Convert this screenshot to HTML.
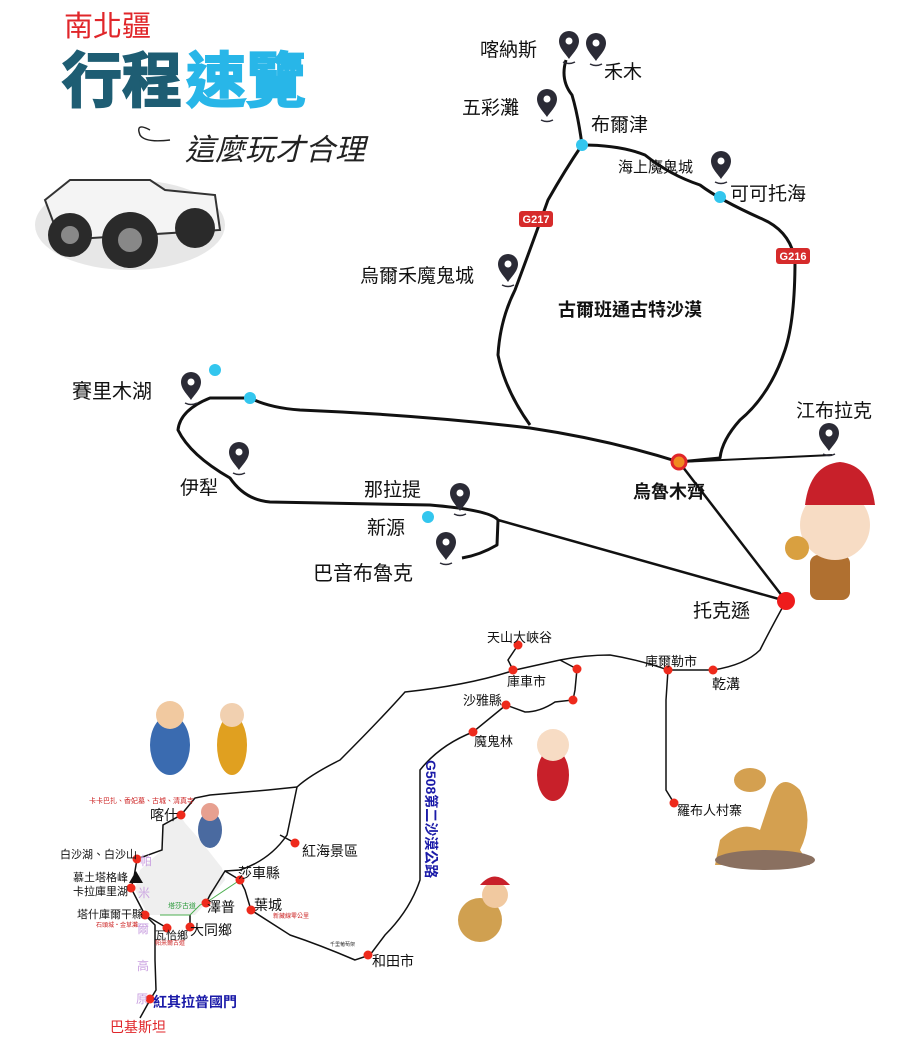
<!DOCTYPE html>
<html><head><meta charset="utf-8"><style>
html,body{margin:0;padding:0;background:#fff}
svg{display:block}
text{font-family:"Liberation Sans","Noto Sans CJK TC",sans-serif}
</style></head><body>
<svg width="897" height="1059" viewBox="0 0 897 1059" xmlns="http://www.w3.org/2000/svg">
<defs>
<g id="pin"><path d="M0,14 C-4,8 -10,3 -10,-4 A10,10 0 1 1 10,-4 C10,3 4,8 0,14Z" fill="#2b2b36"/><circle cx="0" cy="-4" r="3.5" fill="#fff"/><path d="M-6,17 Q0,20 6,17" stroke="#2b2b36" stroke-width="1.5" fill="none"/></g>
</defs>
<!-- title -->
<text x="64" y="36" font-size="29" fill="#e0262a">南北疆</text>
<text x="62" y="102" font-size="60" font-weight="bold" fill="#1e5d73" stroke="#1e5d73" stroke-width="2">行程</text>
<text x="186" y="102" font-size="60" font-weight="bold" fill="#28b6e8" stroke="#28b6e8" stroke-width="2">速覽</text>
<path d="M150,130 q-15,-8 -10,5 q5,8 30,5" stroke="#222" fill="none" stroke-width="1.5"/>
<text x="185" y="160" font-size="30" fill="#222" font-family="Noto Serif CJK SC, serif" font-style="italic">這麼玩才合理</text>
<!-- jeep -->
<ellipse cx="130" cy="225" rx="95" ry="45" fill="#ddd" opacity="0.7"/>
<path d="M45,200 L70,180 L150,180 L165,190 L215,195 L220,230 L60,240Z" fill="#f4f4f4" stroke="#333" stroke-width="2"/>
<circle cx="70" cy="235" r="22" fill="#2a2a2a"/><circle cx="130" cy="240" r="28" fill="#2a2a2a"/><circle cx="195" cy="228" r="20" fill="#2a2a2a"/>
<circle cx="130" cy="240" r="12" fill="#888"/><circle cx="70" cy="235" r="9" fill="#888"/>
<!-- routes north -->
<g fill="none" stroke="#111" stroke-width="3" stroke-linejoin="round">
<path d="M566,60 Q560,80 572,95 Q578,115 582,145 Q565,170 548,200 Q530,250 515,290 Q500,320 498,355 Q505,390 530,425"/>
<path d="M582,145 Q620,145 645,155 Q670,175 700,185 Q720,200 760,218 Q790,230 795,260 Q795,320 785,350 Q770,395 740,420 Q722,440 720,458 L679,462"/>
<path d="M679,462 L832,455" stroke-width="2"/>
<path d="M250,398 Q270,408 300,410 Q420,415 530,428 Q610,440 679,462"/>
<path d="M250,398 L210,398 Q180,410 178,430 Q190,455 230,478 Q245,500 270,502 L430,505 Q490,510 498,520 L497,545 Q480,555 462,558"/>
<path d="M498,520 L786,601" stroke-width="2.5"/>
<path d="M679,462 L786,601" stroke-width="2.5"/>
<path d="M786,601 Q770,630 760,650 Q745,665 713,670" stroke-width="1.5"/>
</g>
<circle cx="582" cy="145" r="6" fill="#33c6ee"/><circle cx="720" cy="197" r="6" fill="#33c6ee"/><circle cx="215" cy="370" r="6" fill="#33c6ee"/><circle cx="250" cy="398" r="6" fill="#33c6ee"/><circle cx="428" cy="517" r="6" fill="#33c6ee"/>
<circle cx="679" cy="462" r="7" fill="#f08a20" stroke="#e0262a" stroke-width="3"/>
<circle cx="786" cy="601" r="9" fill="#ee1c1c"/>
<rect x="519" y="211" width="34" height="16" rx="3" fill="#d62b2b"/><text x="536" y="223" font-size="11" fill="#fff" text-anchor="middle" font-weight="bold">G217</text>
<rect x="776" y="248" width="34" height="16" rx="3" fill="#d62b2b"/><text x="793" y="260" font-size="11" fill="#fff" text-anchor="middle" font-weight="bold">G216</text>
<use href="#pin" x="569" y="45"/><use href="#pin" x="596" y="47"/><use href="#pin" x="547" y="103"/><use href="#pin" x="721" y="165"/><use href="#pin" x="508" y="268"/><use href="#pin" x="191" y="386"/><use href="#pin" x="239" y="456"/><use href="#pin" x="460" y="497"/><use href="#pin" x="446" y="546"/><use href="#pin" x="829" y="437"/>
<g font-size="19" fill="#111">
<text x="480" y="56">喀納斯</text><text x="604" y="78">禾木</text><text x="462" y="114">五彩灘</text><text x="591" y="131">布爾津</text>
<text x="618" y="172" font-size="15">海上魔鬼城</text><text x="730" y="200">可可托海</text>
<text x="360" y="282">烏爾禾魔鬼城</text><text x="72" y="398" font-size="20">賽里木湖</text><text x="180" y="494">伊犁</text>
<text x="364" y="496">那拉提</text><text x="367" y="534">新源</text><text x="313" y="580" font-size="20">巴音布魯克</text>
<text x="796" y="417">江布拉克</text><text x="693" y="617">托克遜</text>
</g>
<text x="558" y="316" font-size="18" font-weight="bold" fill="#111">古爾班通古特沙漠</text>
<text x="633" y="498" font-size="18" font-weight="bold" fill="#111">烏魯木齊</text>
<!-- boy cartoon -->
<rect x="810" y="555" width="40" height="45" rx="8" fill="#b07030"/>
<circle cx="835" cy="525" r="35" fill="#f7dcc4"/>
<path d="M805,505 Q810,465 840,462 Q870,465 875,505Z" fill="#c8202a"/>
<circle cx="797" cy="548" r="12" fill="#d9a040"/>
<!-- south roads -->
<path d="M180,815 L163,825 L162,850 L140,870 L135,890 L148,915 L195,915 L206,903 L225,880 L222,868 L200,840 L185,823Z" fill="#efefef"/>
<g fill="none" stroke="#111" stroke-width="1.5">
<path d="M713,670 L668,670 Q640,660 610,655 Q585,655 560,660 L515,670 Q470,685 405,692 Q380,720 340,760 Q310,775 297,787"/>
<path d="M668,670 L666,700 L666,790 L674,803"/>
<path d="M518,645 L508,660 L513,670"/>
<path d="M560,660 L577,669 L575,690 L573,700 L555,702 Q540,712 525,712 L506,705 L473,732 Q440,745 420,770 L420,880 Q410,910 385,935 L370,955 L355,960 Q320,945 290,935 L251,910 L245,890 L240,880 L225,871 L210,895 L206,903"/>
<path d="M297,787 L268,790 L210,795 L195,798 L181,815 L163,825 L162,850 L137,859 L134,877 L131,888 L145,915 L155,925 L155,960 L156,990 L150,1000 L140,1018"/>
<path d="M297,787 L287,835 Q270,860 240,870 L225,871"/>
<path d="M280,835 L295,843"/>
<path d="M145,915 L167,928"/><path d="M190,927 L190,915"/>
</g>
<path d="M160,915 L190,915 L200,905 L210,900 L240,880" stroke="#4caf50" stroke-width="1" fill="none"/>
<g fill="#ee2a1c">
<circle cx="518" cy="645" r="4.5"/><circle cx="513" cy="670" r="4.5"/><circle cx="577" cy="669" r="4.5"/><circle cx="573" cy="700" r="4.5"/><circle cx="506" cy="705" r="4.5"/><circle cx="473" cy="732" r="4.5"/><circle cx="668" cy="670" r="4.5"/><circle cx="713" cy="670" r="4.5"/><circle cx="674" cy="803" r="4.5"/>
<circle cx="181" cy="815" r="4.5"/><circle cx="137" cy="859" r="4.5"/><circle cx="131" cy="888" r="4.5"/><circle cx="145" cy="915" r="4.5"/><circle cx="167" cy="928" r="4.5"/><circle cx="190" cy="927" r="4.5"/><circle cx="206" cy="903" r="4.5"/><circle cx="240" cy="880" r="4.5"/><circle cx="251" cy="910" r="4.5"/><circle cx="295" cy="843" r="4.5"/><circle cx="368" cy="955" r="4.5"/><circle cx="150" cy="999" r="4.5"/>
</g>
<path d="M136,871 L129,883 L143,883Z" fill="#111"/>
<g font-size="13" fill="#111">
<text x="487" y="642">天山大峽谷</text><text x="507" y="686">庫車市</text><text x="463" y="705">沙雅縣</text><text x="474" y="746">魔鬼林</text>
<text x="645" y="666">庫爾勒市</text><text x="712" y="689" font-size="14">乾溝</text><text x="677" y="815">羅布人村寨</text>
<text x="150" y="820" font-size="14">喀什</text><text x="60" y="858" font-size="11">白沙湖、白沙山</text><text x="73" y="881" font-size="11">慕土塔格峰</text><text x="73" y="895" font-size="11">卡拉庫里湖</text>
<text x="77" y="918" font-size="11">塔什庫爾干縣</text><text x="155" y="939" font-size="11">瓦恰鄉</text><text x="190" y="935" font-size="14">大同鄉</text><text x="207" y="912" font-size="14">澤普</text>
<text x="238" y="878" font-size="14">莎車縣</text><text x="254" y="910" font-size="14">葉城</text><text x="302" y="856" font-size="14">紅海景區</text><text x="372" y="966" font-size="14">和田市</text>
</g>
<text x="89" y="803" font-size="7" fill="#c22">卡卡巴扎、香妃墓、古城、清真寺</text>
<text x="96" y="927" font-size="6" fill="#c22">石頭城・金草灘</text>
<text x="155" y="945" font-size="6" fill="#c22">帕米爾古道</text>
<text x="273" y="918" font-size="6" fill="#c22">新藏線零公里</text>
<text x="330" y="946" font-size="5" fill="#333">千里葡萄架</text>
<text x="168" y="908" font-size="7" fill="#2a9a3a">塔莎古道</text>
<text x="153" y="1007" font-size="14" fill="#1a1aa8" font-weight="bold">紅其拉普國門</text>
<text x="110" y="1032" font-size="14" fill="#e0262a">巴基斯坦</text>
<g font-size="12" fill="#c9a0e0"><text x="140" y="865">帕</text><text x="138" y="897">米</text><text x="137" y="933">爾</text><text x="137" y="970">高</text><text x="136" y="1003">原</text></g>
<text x="426" y="760" font-size="14" fill="#1a1aa8" font-weight="bold" transform="rotate(90 426 760)">G508第二沙漠公路</text>
<!-- cartoons -->
<ellipse cx="170" cy="745" rx="20" ry="30" fill="#3a6bb0"/><circle cx="170" cy="715" r="14" fill="#f1c9a0"/>
<ellipse cx="232" cy="745" rx="15" ry="30" fill="#e0a020"/><circle cx="232" cy="715" r="12" fill="#f1d0b0"/>
<ellipse cx="210" cy="830" rx="12" ry="18" fill="#4a6aa0"/><circle cx="210" cy="812" r="9" fill="#e7a090"/>
<ellipse cx="553" cy="775" rx="16" ry="26" fill="#c8202a"/><circle cx="553" cy="745" r="16" fill="#f7dcc4"/>
<ellipse cx="480" cy="920" rx="22" ry="22" fill="#d0a050"/><circle cx="495" cy="895" r="13" fill="#f1c9a0"/><path d="M480,885 Q495,868 510,885Z" fill="#c8202a"/>
<path d="M720,840 Q740,820 760,830 L770,800 Q780,770 800,790 Q815,820 800,850 L810,865 L715,865Z" fill="#d4a050"/><ellipse cx="750" cy="780" rx="16" ry="12" fill="#d4a050"/><ellipse cx="765" cy="860" rx="50" ry="10" fill="#8a7060"/>
</svg>
</body></html>
